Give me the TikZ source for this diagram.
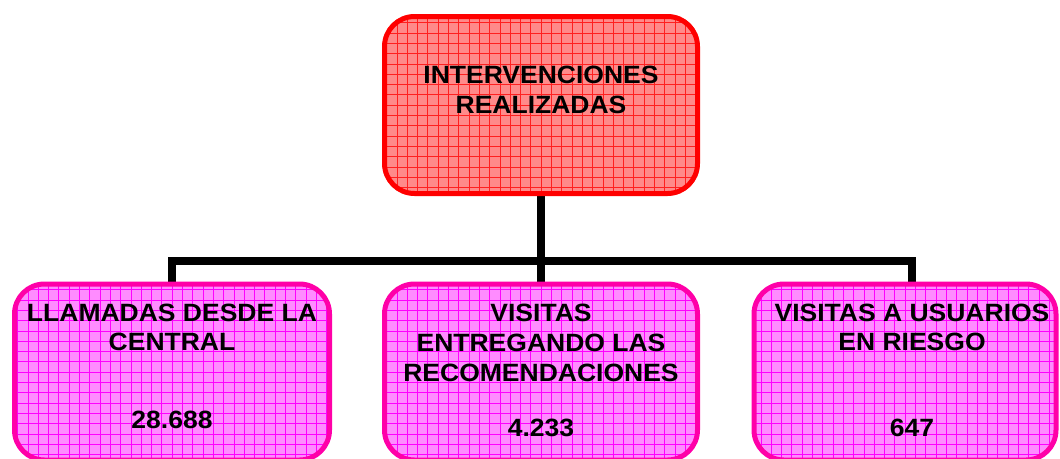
\documentclass[tikz,border=0pt]{standalone}
\usepackage{fontspec}
\usetikzlibrary{backgrounds}
\newfontfamily\boxfont[FakeStretch=1.06]{Liberation Sans}
\definecolor{redfill}{HTML}{FF8A8A}
\definecolor{redgrid}{HTML}{FF2020}
\definecolor{redborder}{HTML}{FF0000}
\definecolor{pinkfill}{HTML}{FF8CFF}
\definecolor{pinkgrid}{HTML}{FF00FF}
\definecolor{pinkborder}{HTML}{FF00A8}
\begin{document}
\begin{tikzpicture}[x=1pt,y=-1pt,
  gridbox/.style n args={3}{draw=#1, line width=5pt, rounded corners=30pt, fill=#2,
    inner sep=0pt,
    path picture={\draw[#3, line width=0.5pt, step=10.3pt]
      (path picture bounding box.south west) grid (path picture bounding box.north east);}},
  redbox/.style={gridbox={redborder}{redfill}{redgrid}},
  pinkbox/.style={gridbox={pinkborder}{pinkfill}{pinkgrid}},
  lbl/.style={anchor=base, inner sep=0pt, font=\boxfont\bfseries\fontsize{25}{30}\selectfont},
  conn/.style={line width=7.5pt, black}
]
\useasboundingbox (0,0) rectangle (1060,458);
\node[redbox, minimum width=313pt, minimum height=177pt] (top) at (541,105) {};
\node[pinkbox, minimum width=315pt, minimum height=176pt] (left) at (172,372) {};
\node[pinkbox, minimum width=313pt, minimum height=176pt] (mid) at (541,372) {};
\node[pinkbox, minimum width=302pt, minimum height=176pt] (right) at (905,372) {};
\coordinate (bar) at (541,261);
\coordinate (rdrop) at (912,284);
\begin{scope}[on background layer]
\draw[conn] (top.south) -- (mid.north);
\draw[conn] (left.north) |- (bar) -| (rdrop);
\end{scope}
% texts
\node[lbl] (t1) at (541,83) {INTERVENCIONES};
\node[lbl] (t2) at (541,113) {REALIZADAS};
\node[lbl] (l1) at (172,321) {LLAMADAS DESDE LA};
\node[lbl] (l2) at (172,350) {CENTRAL};
\node[lbl] (l3) at (172,428) {28.688};
\node[lbl] (m1) at (541,321) {VISITAS};
\node[lbl] (m2) at (541,351) {ENTREGANDO LAS};
\node[lbl] (m3) at (541,381) {RECOMENDACIONES};
\node[lbl] (m4) at (541,436) {4.233};
\node[lbl] (r1) at (912,321) {VISITAS A USUARIOS};
\node[lbl] (r2) at (912,350) {EN RIESGO};
\node[lbl] (r3) at (912,436) {647};
\end{tikzpicture}
\end{document}
